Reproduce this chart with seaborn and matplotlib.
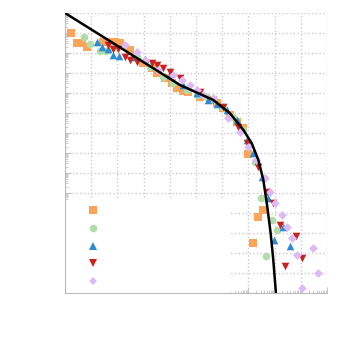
import numpy as np
import pandas as pd
import matplotlib
matplotlib.use("Agg")
import matplotlib.pyplot as plt
from matplotlib.ticker import LogLocator, NullFormatter
from matplotlib.lines import Line2D
import seaborn as sns

# values are log10 of x and y
sq_x = [0.22, 0.45, 0.64, 0.85, 1.46, 1.72, 1.91, 2.10, 2.48, 2.99, 3.31, 3.50, 3.82, 4.07,
        4.26, 4.52, 4.71, 5.15, 5.79, 6.04, 6.30, 6.55, 6.81, 7.00, 7.38, 7.57, 7.19]
sq_y = [-1.02, -1.52, -1.52, -1.72, -1.43, -1.43, -1.43, -1.52, -1.85, -2.52, -2.77, -3.02, -3.27, -3.52,
        -3.77, -3.88, -3.93, -4.18, -4.52, -4.77, -5.10, -5.43, -5.77, -7.05, -10.18, -9.85, -11.48]

ci_x = [0.73, 0.95, 1.34, 1.56, 1.78, 2.74, 3.24, 3.75, 4.13, 4.64, 5.03, 5.41, 5.66, 6.04,
        6.42, 6.81, 7.25, 7.47, 7.89, 8.08, 7.67]
ci_y = [-1.22, -1.55, -1.88, -1.88, -1.77, -2.18, -2.68, -3.18, -3.52, -3.85, -4.10, -4.18, -4.35, -4.68,
        -5.18, -5.85, -7.43, -9.27, -10.35, -10.85, -12.13]

up_x = [1.21, 1.40, 1.65, 1.84, 2.07, 2.54, 3.05, 4.01, 4.52, 5.03, 5.47, 5.79, 6.17, 6.55,
        6.93, 7.19, 7.51, 7.76, 8.33, 7.98, 8.59]
up_y = [-1.43, -1.72, -1.82, -2.10, -2.15, -2.18, -2.32, -3.10, -3.60, -4.02, -4.35, -4.55, -4.85, -5.35,
        -6.35, -7.02, -8.18, -9.27, -10.68, -11.35, -11.63]

dn_x = [1.65, 1.84, 2.04, 2.29, 2.48, 2.74, 3.31, 3.50, 3.75, 4.01, 4.39, 5.15, 5.66, 6.04,
        6.62, 6.93, 7.38, 7.70, 7.95, 8.21, 8.40, 8.80, 9.03]
dn_y = [-1.60, -1.82, -1.82, -2.22, -2.35, -2.43, -2.52, -2.60, -2.77, -2.93, -3.27, -3.93, -4.35, -4.72,
        -5.68, -6.52, -7.68, -8.93, -9.52, -10.60, -12.63, -11.15, -12.23]

di_x = [2.29, 2.74, 3.05, 3.56, 4.13, 4.45, 4.77, 5.03, 5.28, 5.66, 6.23, 6.68, 7.00, 7.29,
        7.63, 7.82, 8.02, 8.27, 8.46, 8.65, 8.84, 9.48, 9.67, 9.06]
di_y = [-1.60, -1.93, -2.35, -2.85, -3.10, -3.35, -3.60, -3.85, -4.10, -4.27, -5.27, -5.93, -6.68, -7.35,
        -8.27, -8.93, -9.52, -10.10, -10.68, -11.27, -12.10, -11.77, -12.98, -13.77]

fit_x = [0.0, 4.39, 5.66, 6.30, 6.81, 7.13, 7.38, 7.57, 7.72, 7.85, 7.95, 8.05]
fit_y = [0.0, -3.60, -4.35, -5.02, -5.85, -6.52, -7.35, -8.35, -9.68, -11.02, -12.35, -14.0]

series = [
    ("s", sq_x, sq_y, "#fca55a", 28),
    ("o", ci_x, ci_y, "#b3dcab", 30),
    ("^", up_x, up_y, "#2c8bd3", 30),
    ("v", dn_x, dn_y, "#c9221f", 30),
    ("D", di_x, di_y, "#ddbaf4", 20),
]

sns.set_style("white")
fig = plt.figure(figsize=(3.45, 3.45), dpi=100)
ax = fig.add_axes([65 / 345, 1 - 293 / 345, 262 / 345, 280 / 345])

handles = []
for i, (m, xs, ys, c, s) in enumerate(series):
    df = pd.DataFrame({"x": np.power(10.0, xs), "y": np.power(10.0, ys)})
    sns.scatterplot(data=df, x="x", y="y", marker=m, color=c, s=s,
                    linewidth=0, ax=ax, zorder=2 + i * 0.1, clip_on=False)
    handles.append(Line2D([], [], marker=m, color=c, linestyle="none",
                          markersize=np.sqrt(s), markeredgewidth=0))

fit = pd.DataFrame({"x": np.power(10.0, fit_x), "y": np.power(10.0, fit_y)})
sns.lineplot(data=fit, x="x", y="y", color="black", lw=1.8, ax=ax, zorder=5, sort=False)

ax.set_xscale("log")
ax.set_yscale("log")
ax.set_xlim(1, 1e10)
ax.set_ylim(1e-14, 1)

for axis in (ax.xaxis, ax.yaxis):
    axis.set_major_locator(LogLocator(base=10, numticks=30))
    axis.set_minor_locator(LogLocator(base=10, subs=np.arange(2, 10), numticks=200))
    axis.set_major_formatter(NullFormatter())
    axis.set_minor_formatter(NullFormatter())
ax.tick_params(which="both", direction="in", color="#bbbbbb", bottom=True, left=True)
ax.tick_params(which="major", length=4, width=0.6)
ax.tick_params(which="minor", length=2.5, width=0.5)
ax.set_xlabel("")
ax.set_ylabel("")

ax.grid(True, which="major", linestyle=":", color="#cccccc", lw=1.0)
for side in ("top", "right"):
    ax.spines[side].set_visible(False)
for side in ("left", "bottom"):
    ax.spines[side].set_color("#bbbbbb")
    ax.spines[side].set_linewidth(0.8)

leg = ax.legend(handles, [" "] * 5, loc="lower left", bbox_to_anchor=(0, 0, 0.634, 0.3),
                mode="expand", frameon=True, framealpha=1, edgecolor="none",
                facecolor="white", handlelength=3.8, handletextpad=0.4,
                labelspacing=0.38, borderpad=0.36, borderaxespad=0, fontsize=9)
leg.set_zorder(1.5)

fig.savefig("out.png", dpi=100)
